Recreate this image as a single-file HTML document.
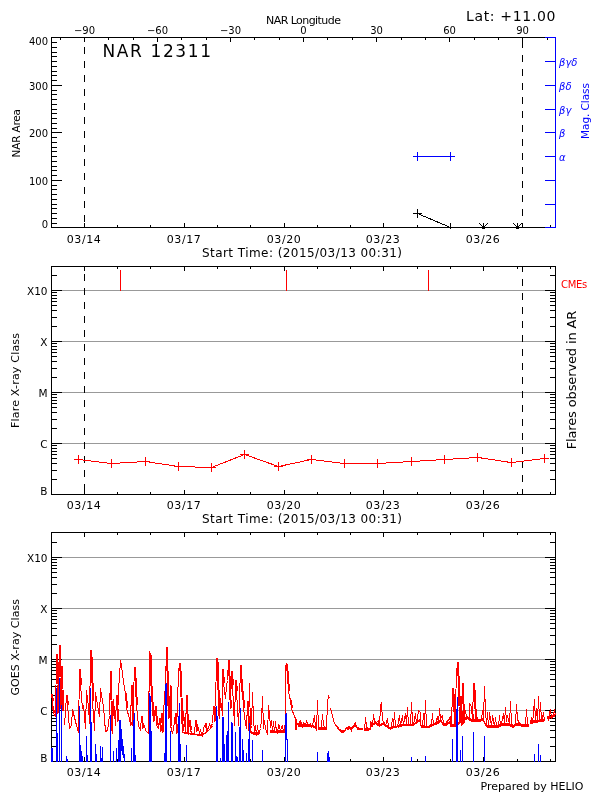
<!DOCTYPE html>
<html><head><meta charset="utf-8"><title>NAR 12311</title>
<style>
html,body{margin:0;padding:0;background:#fff}
svg{display:block}
text{font-family:"DejaVu Sans","Liberation Sans",sans-serif}
</style></head>
<body>
<svg width="600" height="800" viewBox="0 0 600 800">
<rect width="600" height="800" fill="#fff"/>
<g shape-rendering="crispEdges">
<rect x="51" y="37" width="505" height="1" fill="#000"/>
<rect x="51" y="227" width="505" height="1" fill="#000"/>
<rect x="51" y="37" width="1" height="191" fill="#000"/>
<rect x="51" y="227" width="11" height="1" fill="#000"/>
<rect x="51" y="223" width="6" height="1" fill="#000"/>
<rect x="51" y="218" width="6" height="1" fill="#000"/>
<rect x="51" y="213" width="6" height="1" fill="#000"/>
<rect x="51" y="208" width="6" height="1" fill="#000"/>
<rect x="51" y="204" width="6" height="1" fill="#000"/>
<rect x="51" y="199" width="6" height="1" fill="#000"/>
<rect x="51" y="194" width="6" height="1" fill="#000"/>
<rect x="51" y="189" width="6" height="1" fill="#000"/>
<rect x="51" y="185" width="6" height="1" fill="#000"/>
<rect x="51" y="180" width="11" height="1" fill="#000"/>
<rect x="51" y="175" width="6" height="1" fill="#000"/>
<rect x="51" y="170" width="6" height="1" fill="#000"/>
<rect x="51" y="166" width="6" height="1" fill="#000"/>
<rect x="51" y="161" width="6" height="1" fill="#000"/>
<rect x="51" y="156" width="6" height="1" fill="#000"/>
<rect x="51" y="151" width="6" height="1" fill="#000"/>
<rect x="51" y="147" width="6" height="1" fill="#000"/>
<rect x="51" y="142" width="6" height="1" fill="#000"/>
<rect x="51" y="137" width="6" height="1" fill="#000"/>
<rect x="51" y="132" width="11" height="1" fill="#000"/>
<rect x="51" y="128" width="6" height="1" fill="#000"/>
<rect x="51" y="123" width="6" height="1" fill="#000"/>
<rect x="51" y="118" width="6" height="1" fill="#000"/>
<rect x="51" y="113" width="6" height="1" fill="#000"/>
<rect x="51" y="109" width="6" height="1" fill="#000"/>
<rect x="51" y="104" width="6" height="1" fill="#000"/>
<rect x="51" y="99" width="6" height="1" fill="#000"/>
<rect x="51" y="94" width="6" height="1" fill="#000"/>
<rect x="51" y="90" width="6" height="1" fill="#000"/>
<rect x="51" y="85" width="11" height="1" fill="#000"/>
<rect x="51" y="80" width="6" height="1" fill="#000"/>
<rect x="51" y="75" width="6" height="1" fill="#000"/>
<rect x="51" y="71" width="6" height="1" fill="#000"/>
<rect x="51" y="66" width="6" height="1" fill="#000"/>
<rect x="51" y="61" width="6" height="1" fill="#000"/>
<rect x="51" y="56" width="6" height="1" fill="#000"/>
<rect x="51" y="52" width="6" height="1" fill="#000"/>
<rect x="51" y="47" width="6" height="1" fill="#000"/>
<rect x="51" y="42" width="6" height="1" fill="#000"/>
<rect x="51" y="37" width="11" height="1" fill="#000"/>
<rect x="84" y="223" width="1" height="5" fill="#000"/>
<rect x="117" y="225" width="1" height="3" fill="#000"/>
<rect x="150" y="225" width="1" height="3" fill="#000"/>
<rect x="184" y="223" width="1" height="5" fill="#000"/>
<rect x="217" y="225" width="1" height="3" fill="#000"/>
<rect x="250" y="225" width="1" height="3" fill="#000"/>
<rect x="284" y="223" width="1" height="5" fill="#000"/>
<rect x="317" y="225" width="1" height="3" fill="#000"/>
<rect x="350" y="225" width="1" height="3" fill="#000"/>
<rect x="383" y="223" width="1" height="5" fill="#000"/>
<rect x="417" y="225" width="1" height="3" fill="#000"/>
<rect x="450" y="225" width="1" height="3" fill="#000"/>
<rect x="483" y="223" width="1" height="5" fill="#000"/>
<rect x="517" y="225" width="1" height="3" fill="#000"/>
<rect x="550" y="225" width="1" height="3" fill="#000"/>
<rect x="60" y="37" width="1" height="3" fill="#000"/>
<rect x="84" y="37" width="1" height="5" fill="#000"/>
<rect x="108" y="37" width="1" height="3" fill="#000"/>
<rect x="133" y="37" width="1" height="3" fill="#000"/>
<rect x="157" y="37" width="1" height="5" fill="#000"/>
<rect x="181" y="37" width="1" height="3" fill="#000"/>
<rect x="206" y="37" width="1" height="3" fill="#000"/>
<rect x="230" y="37" width="1" height="5" fill="#000"/>
<rect x="254" y="37" width="1" height="3" fill="#000"/>
<rect x="279" y="37" width="1" height="3" fill="#000"/>
<rect x="303" y="37" width="1" height="5" fill="#000"/>
<rect x="327" y="37" width="1" height="3" fill="#000"/>
<rect x="352" y="37" width="1" height="3" fill="#000"/>
<rect x="376" y="37" width="1" height="5" fill="#000"/>
<rect x="401" y="37" width="1" height="3" fill="#000"/>
<rect x="425" y="37" width="1" height="3" fill="#000"/>
<rect x="449" y="37" width="1" height="5" fill="#000"/>
<rect x="474" y="37" width="1" height="3" fill="#000"/>
<rect x="498" y="37" width="1" height="3" fill="#000"/>
<rect x="522" y="37" width="1" height="5" fill="#000"/>
<rect x="547" y="37" width="1" height="3" fill="#000"/>
<rect x="84" y="37" width="1" height="3" fill="#000"/>
<rect x="84" y="47" width="1" height="7" fill="#000"/>
<rect x="84" y="61" width="1" height="7" fill="#000"/>
<rect x="84" y="75" width="1" height="7" fill="#000"/>
<rect x="84" y="89" width="1" height="7" fill="#000"/>
<rect x="84" y="103" width="1" height="7" fill="#000"/>
<rect x="84" y="117" width="1" height="7" fill="#000"/>
<rect x="84" y="131" width="1" height="7" fill="#000"/>
<rect x="84" y="145" width="1" height="7" fill="#000"/>
<rect x="84" y="159" width="1" height="7" fill="#000"/>
<rect x="84" y="173" width="1" height="7" fill="#000"/>
<rect x="84" y="187" width="1" height="7" fill="#000"/>
<rect x="84" y="201" width="1" height="7" fill="#000"/>
<rect x="84" y="215" width="1" height="7" fill="#000"/>
<rect x="522" y="41" width="1" height="7" fill="#000"/>
<rect x="522" y="55" width="1" height="7" fill="#000"/>
<rect x="522" y="69" width="1" height="7" fill="#000"/>
<rect x="522" y="83" width="1" height="7" fill="#000"/>
<rect x="522" y="97" width="1" height="7" fill="#000"/>
<rect x="522" y="111" width="1" height="7" fill="#000"/>
<rect x="522" y="125" width="1" height="7" fill="#000"/>
<rect x="522" y="139" width="1" height="7" fill="#000"/>
<rect x="522" y="153" width="1" height="7" fill="#000"/>
<rect x="522" y="167" width="1" height="7" fill="#000"/>
<rect x="522" y="181" width="1" height="7" fill="#000"/>
<rect x="522" y="195" width="1" height="7" fill="#000"/>
<rect x="522" y="209" width="1" height="7" fill="#000"/>
<rect x="522" y="223" width="1" height="5" fill="#000"/>
<rect x="555" y="37" width="1" height="191" fill="#0000ff"/>
<rect x="545" y="37" width="11" height="1" fill="#0000ff"/>
<rect x="545" y="61" width="11" height="1" fill="#0000ff"/>
<rect x="545" y="85" width="11" height="1" fill="#0000ff"/>
<rect x="545" y="109" width="11" height="1" fill="#0000ff"/>
<rect x="545" y="132" width="11" height="1" fill="#0000ff"/>
<rect x="545" y="156" width="11" height="1" fill="#0000ff"/>
<rect x="545" y="180" width="11" height="1" fill="#0000ff"/>
<rect x="545" y="204" width="11" height="1" fill="#0000ff"/>
<rect x="545" y="227" width="11" height="1" fill="#0000ff"/>
<rect x="413" y="156" width="42" height="1" fill="#0000ff"/>
<rect x="413" y="156" width="9" height="1" fill="#0000ff"/>
<rect x="417" y="152" width="1" height="9" fill="#0000ff"/>
<rect x="446" y="156" width="9" height="1" fill="#0000ff"/>
<rect x="450" y="152" width="1" height="9" fill="#0000ff"/>
<line x1="417.5" y1="213.5" x2="450.5" y2="227.5" stroke="#000" stroke-width="1"/>
<rect x="413" y="213" width="9" height="1" fill="#000"/>
<rect x="417" y="209" width="1" height="9" fill="#000"/>
<rect x="450" y="223" width="1" height="6" fill="#000"/>
<rect x="482" y="226" width="1" height="1" fill="#000"/>
<rect x="484" y="226" width="1" height="1" fill="#000"/>
<rect x="481" y="225" width="1" height="1" fill="#000"/>
<rect x="485" y="225" width="1" height="1" fill="#000"/>
<rect x="480" y="224" width="1" height="1" fill="#000"/>
<rect x="486" y="224" width="1" height="1" fill="#000"/>
<rect x="479" y="223" width="1" height="1" fill="#000"/>
<rect x="487" y="223" width="1" height="1" fill="#000"/>
<rect x="483" y="223" width="1" height="5" fill="#000"/>
<rect x="482" y="226" width="3" height="3" fill="#000"/>
<rect x="516" y="226" width="1" height="1" fill="#000"/>
<rect x="518" y="226" width="1" height="1" fill="#000"/>
<rect x="515" y="225" width="1" height="1" fill="#000"/>
<rect x="519" y="225" width="1" height="1" fill="#000"/>
<rect x="514" y="224" width="1" height="1" fill="#000"/>
<rect x="520" y="224" width="1" height="1" fill="#000"/>
<rect x="513" y="223" width="1" height="1" fill="#000"/>
<rect x="521" y="223" width="1" height="1" fill="#000"/>
<rect x="517" y="223" width="1" height="5" fill="#000"/>
<rect x="516" y="226" width="3" height="3" fill="#000"/>
<rect x="51" y="290" width="505" height="1" fill="#999999"/>
<rect x="51" y="341" width="505" height="1" fill="#999999"/>
<rect x="51" y="392" width="505" height="1" fill="#999999"/>
<rect x="51" y="443" width="505" height="1" fill="#999999"/>
<rect x="51" y="266" width="505" height="1" fill="#000"/>
<rect x="51" y="494" width="505" height="1" fill="#000"/>
<rect x="51" y="266" width="1" height="229" fill="#000"/>
<rect x="555" y="266" width="1" height="229" fill="#000"/>
<rect x="51" y="290" width="11" height="1" fill="#000"/>
<rect x="545" y="290" width="11" height="1" fill="#000"/>
<rect x="51" y="275" width="6" height="1" fill="#000"/>
<rect x="550" y="275" width="6" height="1" fill="#000"/>
<rect x="51" y="341" width="11" height="1" fill="#000"/>
<rect x="545" y="341" width="11" height="1" fill="#000"/>
<rect x="51" y="326" width="6" height="1" fill="#000"/>
<rect x="550" y="326" width="6" height="1" fill="#000"/>
<rect x="51" y="317" width="6" height="1" fill="#000"/>
<rect x="550" y="317" width="6" height="1" fill="#000"/>
<rect x="51" y="310" width="6" height="1" fill="#000"/>
<rect x="550" y="310" width="6" height="1" fill="#000"/>
<rect x="51" y="305" width="6" height="1" fill="#000"/>
<rect x="550" y="305" width="6" height="1" fill="#000"/>
<rect x="51" y="301" width="6" height="1" fill="#000"/>
<rect x="550" y="301" width="6" height="1" fill="#000"/>
<rect x="51" y="298" width="6" height="1" fill="#000"/>
<rect x="550" y="298" width="6" height="1" fill="#000"/>
<rect x="51" y="295" width="6" height="1" fill="#000"/>
<rect x="550" y="295" width="6" height="1" fill="#000"/>
<rect x="51" y="292" width="6" height="1" fill="#000"/>
<rect x="550" y="292" width="6" height="1" fill="#000"/>
<rect x="51" y="392" width="11" height="1" fill="#000"/>
<rect x="545" y="392" width="11" height="1" fill="#000"/>
<rect x="51" y="377" width="6" height="1" fill="#000"/>
<rect x="550" y="377" width="6" height="1" fill="#000"/>
<rect x="51" y="368" width="6" height="1" fill="#000"/>
<rect x="550" y="368" width="6" height="1" fill="#000"/>
<rect x="51" y="361" width="6" height="1" fill="#000"/>
<rect x="550" y="361" width="6" height="1" fill="#000"/>
<rect x="51" y="356" width="6" height="1" fill="#000"/>
<rect x="550" y="356" width="6" height="1" fill="#000"/>
<rect x="51" y="352" width="6" height="1" fill="#000"/>
<rect x="550" y="352" width="6" height="1" fill="#000"/>
<rect x="51" y="349" width="6" height="1" fill="#000"/>
<rect x="550" y="349" width="6" height="1" fill="#000"/>
<rect x="51" y="346" width="6" height="1" fill="#000"/>
<rect x="550" y="346" width="6" height="1" fill="#000"/>
<rect x="51" y="343" width="6" height="1" fill="#000"/>
<rect x="550" y="343" width="6" height="1" fill="#000"/>
<rect x="51" y="443" width="11" height="1" fill="#000"/>
<rect x="545" y="443" width="11" height="1" fill="#000"/>
<rect x="51" y="428" width="6" height="1" fill="#000"/>
<rect x="550" y="428" width="6" height="1" fill="#000"/>
<rect x="51" y="419" width="6" height="1" fill="#000"/>
<rect x="550" y="419" width="6" height="1" fill="#000"/>
<rect x="51" y="412" width="6" height="1" fill="#000"/>
<rect x="550" y="412" width="6" height="1" fill="#000"/>
<rect x="51" y="407" width="6" height="1" fill="#000"/>
<rect x="550" y="407" width="6" height="1" fill="#000"/>
<rect x="51" y="403" width="6" height="1" fill="#000"/>
<rect x="550" y="403" width="6" height="1" fill="#000"/>
<rect x="51" y="400" width="6" height="1" fill="#000"/>
<rect x="550" y="400" width="6" height="1" fill="#000"/>
<rect x="51" y="397" width="6" height="1" fill="#000"/>
<rect x="550" y="397" width="6" height="1" fill="#000"/>
<rect x="51" y="394" width="6" height="1" fill="#000"/>
<rect x="550" y="394" width="6" height="1" fill="#000"/>
<rect x="51" y="494" width="11" height="1" fill="#000"/>
<rect x="545" y="494" width="11" height="1" fill="#000"/>
<rect x="51" y="479" width="6" height="1" fill="#000"/>
<rect x="550" y="479" width="6" height="1" fill="#000"/>
<rect x="51" y="470" width="6" height="1" fill="#000"/>
<rect x="550" y="470" width="6" height="1" fill="#000"/>
<rect x="51" y="463" width="6" height="1" fill="#000"/>
<rect x="550" y="463" width="6" height="1" fill="#000"/>
<rect x="51" y="458" width="6" height="1" fill="#000"/>
<rect x="550" y="458" width="6" height="1" fill="#000"/>
<rect x="51" y="454" width="6" height="1" fill="#000"/>
<rect x="550" y="454" width="6" height="1" fill="#000"/>
<rect x="51" y="451" width="6" height="1" fill="#000"/>
<rect x="550" y="451" width="6" height="1" fill="#000"/>
<rect x="51" y="448" width="6" height="1" fill="#000"/>
<rect x="550" y="448" width="6" height="1" fill="#000"/>
<rect x="51" y="445" width="6" height="1" fill="#000"/>
<rect x="550" y="445" width="6" height="1" fill="#000"/>
<rect x="84" y="490" width="1" height="5" fill="#000"/>
<rect x="84" y="266" width="1" height="5" fill="#000"/>
<rect x="117" y="492" width="1" height="3" fill="#000"/>
<rect x="117" y="266" width="1" height="3" fill="#000"/>
<rect x="150" y="492" width="1" height="3" fill="#000"/>
<rect x="150" y="266" width="1" height="3" fill="#000"/>
<rect x="184" y="490" width="1" height="5" fill="#000"/>
<rect x="184" y="266" width="1" height="5" fill="#000"/>
<rect x="217" y="492" width="1" height="3" fill="#000"/>
<rect x="217" y="266" width="1" height="3" fill="#000"/>
<rect x="250" y="492" width="1" height="3" fill="#000"/>
<rect x="250" y="266" width="1" height="3" fill="#000"/>
<rect x="284" y="490" width="1" height="5" fill="#000"/>
<rect x="284" y="266" width="1" height="5" fill="#000"/>
<rect x="317" y="492" width="1" height="3" fill="#000"/>
<rect x="317" y="266" width="1" height="3" fill="#000"/>
<rect x="350" y="492" width="1" height="3" fill="#000"/>
<rect x="350" y="266" width="1" height="3" fill="#000"/>
<rect x="383" y="490" width="1" height="5" fill="#000"/>
<rect x="383" y="266" width="1" height="5" fill="#000"/>
<rect x="417" y="492" width="1" height="3" fill="#000"/>
<rect x="417" y="266" width="1" height="3" fill="#000"/>
<rect x="450" y="492" width="1" height="3" fill="#000"/>
<rect x="450" y="266" width="1" height="3" fill="#000"/>
<rect x="483" y="490" width="1" height="5" fill="#000"/>
<rect x="483" y="266" width="1" height="5" fill="#000"/>
<rect x="517" y="492" width="1" height="3" fill="#000"/>
<rect x="517" y="266" width="1" height="3" fill="#000"/>
<rect x="550" y="492" width="1" height="3" fill="#000"/>
<rect x="550" y="266" width="1" height="3" fill="#000"/>
<rect x="84" y="266" width="1" height="1" fill="#000"/>
<rect x="84" y="274" width="1" height="7" fill="#000"/>
<rect x="84" y="288" width="1" height="7" fill="#000"/>
<rect x="84" y="302" width="1" height="7" fill="#000"/>
<rect x="84" y="316" width="1" height="7" fill="#000"/>
<rect x="84" y="330" width="1" height="7" fill="#000"/>
<rect x="84" y="344" width="1" height="7" fill="#000"/>
<rect x="84" y="358" width="1" height="7" fill="#000"/>
<rect x="84" y="372" width="1" height="7" fill="#000"/>
<rect x="84" y="386" width="1" height="7" fill="#000"/>
<rect x="84" y="400" width="1" height="7" fill="#000"/>
<rect x="84" y="414" width="1" height="7" fill="#000"/>
<rect x="84" y="428" width="1" height="7" fill="#000"/>
<rect x="84" y="442" width="1" height="7" fill="#000"/>
<rect x="84" y="456" width="1" height="7" fill="#000"/>
<rect x="84" y="470" width="1" height="7" fill="#000"/>
<rect x="84" y="484" width="1" height="7" fill="#000"/>
<rect x="522" y="266" width="1" height="6" fill="#000"/>
<rect x="522" y="279" width="1" height="7" fill="#000"/>
<rect x="522" y="293" width="1" height="7" fill="#000"/>
<rect x="522" y="307" width="1" height="7" fill="#000"/>
<rect x="522" y="321" width="1" height="7" fill="#000"/>
<rect x="522" y="335" width="1" height="7" fill="#000"/>
<rect x="522" y="349" width="1" height="7" fill="#000"/>
<rect x="522" y="363" width="1" height="7" fill="#000"/>
<rect x="522" y="377" width="1" height="7" fill="#000"/>
<rect x="522" y="391" width="1" height="7" fill="#000"/>
<rect x="522" y="405" width="1" height="7" fill="#000"/>
<rect x="522" y="419" width="1" height="7" fill="#000"/>
<rect x="522" y="433" width="1" height="7" fill="#000"/>
<rect x="522" y="447" width="1" height="7" fill="#000"/>
<rect x="522" y="461" width="1" height="7" fill="#000"/>
<rect x="522" y="475" width="1" height="7" fill="#000"/>
<rect x="522" y="489" width="1" height="6" fill="#000"/>
<rect x="84" y="266" width="1" height="5" fill="#000"/>
<rect x="84" y="485" width="1" height="10" fill="#000"/>
<rect x="120" y="270" width="1" height="21" fill="#ff0000"/>
<rect x="286" y="270" width="1" height="21" fill="#ff0000"/>
<rect x="428" y="270" width="1" height="21" fill="#ff0000"/>
<polyline fill="none" stroke="#f00" stroke-width="1" points="78.5,459.5 111.5,463.5 145.5,461.5 178.5,466.5 211.5,467.5 244.5,454.5 278.5,466.5 311.5,459.5 344.5,463.5 377.5,463.5 411.5,461.5 444.5,459.5 477.5,457.5 511.5,462.5 544.5,458.5"/>
<rect x="74" y="459" width="9" height="1" fill="#ff0000"/>
<rect x="78" y="455" width="1" height="9" fill="#ff0000"/>
<rect x="107" y="463" width="9" height="1" fill="#ff0000"/>
<rect x="111" y="459" width="1" height="9" fill="#ff0000"/>
<rect x="141" y="461" width="9" height="1" fill="#ff0000"/>
<rect x="145" y="457" width="1" height="9" fill="#ff0000"/>
<rect x="174" y="466" width="9" height="1" fill="#ff0000"/>
<rect x="178" y="462" width="1" height="9" fill="#ff0000"/>
<rect x="207" y="467" width="9" height="1" fill="#ff0000"/>
<rect x="211" y="463" width="1" height="9" fill="#ff0000"/>
<rect x="240" y="454" width="9" height="1" fill="#ff0000"/>
<rect x="244" y="450" width="1" height="9" fill="#ff0000"/>
<rect x="274" y="466" width="9" height="1" fill="#ff0000"/>
<rect x="278" y="462" width="1" height="9" fill="#ff0000"/>
<rect x="307" y="459" width="9" height="1" fill="#ff0000"/>
<rect x="311" y="455" width="1" height="9" fill="#ff0000"/>
<rect x="340" y="463" width="9" height="1" fill="#ff0000"/>
<rect x="344" y="459" width="1" height="9" fill="#ff0000"/>
<rect x="373" y="463" width="9" height="1" fill="#ff0000"/>
<rect x="377" y="459" width="1" height="9" fill="#ff0000"/>
<rect x="407" y="461" width="9" height="1" fill="#ff0000"/>
<rect x="411" y="457" width="1" height="9" fill="#ff0000"/>
<rect x="440" y="459" width="9" height="1" fill="#ff0000"/>
<rect x="444" y="455" width="1" height="9" fill="#ff0000"/>
<rect x="473" y="457" width="9" height="1" fill="#ff0000"/>
<rect x="477" y="453" width="1" height="9" fill="#ff0000"/>
<rect x="507" y="462" width="9" height="1" fill="#ff0000"/>
<rect x="511" y="458" width="1" height="9" fill="#ff0000"/>
<rect x="540" y="458" width="9" height="1" fill="#ff0000"/>
<rect x="544" y="454" width="1" height="9" fill="#ff0000"/>
<rect x="51" y="557" width="505" height="1" fill="#999999"/>
<rect x="51" y="608" width="505" height="1" fill="#999999"/>
<rect x="51" y="659" width="505" height="1" fill="#999999"/>
<rect x="51" y="710" width="505" height="1" fill="#999999"/>
<rect x="51" y="532" width="505" height="1" fill="#000"/>
<rect x="51" y="761" width="505" height="1" fill="#000"/>
<rect x="51" y="532" width="1" height="230" fill="#000"/>
<rect x="555" y="532" width="1" height="230" fill="#000"/>
<rect x="51" y="557" width="11" height="1" fill="#000"/>
<rect x="545" y="557" width="11" height="1" fill="#000"/>
<rect x="51" y="542" width="6" height="1" fill="#000"/>
<rect x="550" y="542" width="6" height="1" fill="#000"/>
<rect x="51" y="608" width="11" height="1" fill="#000"/>
<rect x="545" y="608" width="11" height="1" fill="#000"/>
<rect x="51" y="593" width="6" height="1" fill="#000"/>
<rect x="550" y="593" width="6" height="1" fill="#000"/>
<rect x="51" y="584" width="6" height="1" fill="#000"/>
<rect x="550" y="584" width="6" height="1" fill="#000"/>
<rect x="51" y="577" width="6" height="1" fill="#000"/>
<rect x="550" y="577" width="6" height="1" fill="#000"/>
<rect x="51" y="572" width="6" height="1" fill="#000"/>
<rect x="550" y="572" width="6" height="1" fill="#000"/>
<rect x="51" y="568" width="6" height="1" fill="#000"/>
<rect x="550" y="568" width="6" height="1" fill="#000"/>
<rect x="51" y="565" width="6" height="1" fill="#000"/>
<rect x="550" y="565" width="6" height="1" fill="#000"/>
<rect x="51" y="562" width="6" height="1" fill="#000"/>
<rect x="550" y="562" width="6" height="1" fill="#000"/>
<rect x="51" y="559" width="6" height="1" fill="#000"/>
<rect x="550" y="559" width="6" height="1" fill="#000"/>
<rect x="51" y="659" width="11" height="1" fill="#000"/>
<rect x="545" y="659" width="11" height="1" fill="#000"/>
<rect x="51" y="644" width="6" height="1" fill="#000"/>
<rect x="550" y="644" width="6" height="1" fill="#000"/>
<rect x="51" y="635" width="6" height="1" fill="#000"/>
<rect x="550" y="635" width="6" height="1" fill="#000"/>
<rect x="51" y="628" width="6" height="1" fill="#000"/>
<rect x="550" y="628" width="6" height="1" fill="#000"/>
<rect x="51" y="623" width="6" height="1" fill="#000"/>
<rect x="550" y="623" width="6" height="1" fill="#000"/>
<rect x="51" y="619" width="6" height="1" fill="#000"/>
<rect x="550" y="619" width="6" height="1" fill="#000"/>
<rect x="51" y="616" width="6" height="1" fill="#000"/>
<rect x="550" y="616" width="6" height="1" fill="#000"/>
<rect x="51" y="613" width="6" height="1" fill="#000"/>
<rect x="550" y="613" width="6" height="1" fill="#000"/>
<rect x="51" y="610" width="6" height="1" fill="#000"/>
<rect x="550" y="610" width="6" height="1" fill="#000"/>
<rect x="51" y="710" width="11" height="1" fill="#000"/>
<rect x="545" y="710" width="11" height="1" fill="#000"/>
<rect x="51" y="695" width="6" height="1" fill="#000"/>
<rect x="550" y="695" width="6" height="1" fill="#000"/>
<rect x="51" y="686" width="6" height="1" fill="#000"/>
<rect x="550" y="686" width="6" height="1" fill="#000"/>
<rect x="51" y="679" width="6" height="1" fill="#000"/>
<rect x="550" y="679" width="6" height="1" fill="#000"/>
<rect x="51" y="674" width="6" height="1" fill="#000"/>
<rect x="550" y="674" width="6" height="1" fill="#000"/>
<rect x="51" y="670" width="6" height="1" fill="#000"/>
<rect x="550" y="670" width="6" height="1" fill="#000"/>
<rect x="51" y="667" width="6" height="1" fill="#000"/>
<rect x="550" y="667" width="6" height="1" fill="#000"/>
<rect x="51" y="664" width="6" height="1" fill="#000"/>
<rect x="550" y="664" width="6" height="1" fill="#000"/>
<rect x="51" y="661" width="6" height="1" fill="#000"/>
<rect x="550" y="661" width="6" height="1" fill="#000"/>
<rect x="51" y="761" width="11" height="1" fill="#000"/>
<rect x="545" y="761" width="11" height="1" fill="#000"/>
<rect x="51" y="746" width="6" height="1" fill="#000"/>
<rect x="550" y="746" width="6" height="1" fill="#000"/>
<rect x="51" y="737" width="6" height="1" fill="#000"/>
<rect x="550" y="737" width="6" height="1" fill="#000"/>
<rect x="51" y="730" width="6" height="1" fill="#000"/>
<rect x="550" y="730" width="6" height="1" fill="#000"/>
<rect x="51" y="725" width="6" height="1" fill="#000"/>
<rect x="550" y="725" width="6" height="1" fill="#000"/>
<rect x="51" y="721" width="6" height="1" fill="#000"/>
<rect x="550" y="721" width="6" height="1" fill="#000"/>
<rect x="51" y="718" width="6" height="1" fill="#000"/>
<rect x="550" y="718" width="6" height="1" fill="#000"/>
<rect x="51" y="715" width="6" height="1" fill="#000"/>
<rect x="550" y="715" width="6" height="1" fill="#000"/>
<rect x="51" y="712" width="6" height="1" fill="#000"/>
<rect x="550" y="712" width="6" height="1" fill="#000"/>
<rect x="84" y="757" width="1" height="5" fill="#000"/>
<rect x="84" y="532" width="1" height="5" fill="#000"/>
<rect x="117" y="759" width="1" height="3" fill="#000"/>
<rect x="117" y="532" width="1" height="3" fill="#000"/>
<rect x="150" y="759" width="1" height="3" fill="#000"/>
<rect x="150" y="532" width="1" height="3" fill="#000"/>
<rect x="184" y="757" width="1" height="5" fill="#000"/>
<rect x="184" y="532" width="1" height="5" fill="#000"/>
<rect x="217" y="759" width="1" height="3" fill="#000"/>
<rect x="217" y="532" width="1" height="3" fill="#000"/>
<rect x="250" y="759" width="1" height="3" fill="#000"/>
<rect x="250" y="532" width="1" height="3" fill="#000"/>
<rect x="284" y="757" width="1" height="5" fill="#000"/>
<rect x="284" y="532" width="1" height="5" fill="#000"/>
<rect x="317" y="759" width="1" height="3" fill="#000"/>
<rect x="317" y="532" width="1" height="3" fill="#000"/>
<rect x="350" y="759" width="1" height="3" fill="#000"/>
<rect x="350" y="532" width="1" height="3" fill="#000"/>
<rect x="383" y="757" width="1" height="5" fill="#000"/>
<rect x="383" y="532" width="1" height="5" fill="#000"/>
<rect x="417" y="759" width="1" height="3" fill="#000"/>
<rect x="417" y="532" width="1" height="3" fill="#000"/>
<rect x="450" y="759" width="1" height="3" fill="#000"/>
<rect x="450" y="532" width="1" height="3" fill="#000"/>
<rect x="483" y="757" width="1" height="5" fill="#000"/>
<rect x="483" y="532" width="1" height="5" fill="#000"/>
<rect x="517" y="759" width="1" height="3" fill="#000"/>
<rect x="517" y="532" width="1" height="3" fill="#000"/>
<rect x="550" y="759" width="1" height="3" fill="#000"/>
<rect x="550" y="532" width="1" height="3" fill="#000"/>
<polygon fill="#f00" points="181.7,731.7 185.8,732.0 193.3,733.3 201.7,734.7 208.3,730.0 213.3,725.0 213.3,726.7 208.3,731.7 201.7,736.3 193.3,735.0 185.8,733.7 181.7,733.3"/>
<polygon fill="#f00" points="250.0,730.7 254.7,732.3 260.0,731.5 260.0,734.2 254.7,735.0 250.0,733.3"/>
<polygon fill="#f00" points="270.0,729.8 276.7,730.7 285.0,729.8 285.0,732.5 276.7,733.3 270.0,732.5"/>
<polygon fill="#f00" points="297.5,724.0 305.0,724.0 313.3,724.8 316.7,727.3 316.7,730.0 313.3,727.5 305.0,726.7 297.5,726.7"/>
<polygon fill="#f00" points="318.0,727.0 326.7,727.0 326.7,729.7 318.0,729.7"/>
<polygon fill="#f00" points="330.5,706.7 331.7,710.0 333.3,718.3 335.0,723.3 336.7,725.3 339.2,728.3 341.7,730.3 344.2,730.0 346.7,727.0 350.0,725.8 350.0,728.3 346.7,729.2 344.2,732.5 341.7,733.0 339.2,730.8 336.7,727.5 335.0,725.8 333.3,720.8 331.7,712.5 330.5,709.2"/>
<polygon fill="#f00" points="287.0,676.0 288.3,690.7 290.0,699.0 291.7,707.3 293.3,712.3 295.3,716.5 295.3,719.2 293.3,715.0 291.7,710.0 290.0,701.7 288.3,693.3 287.0,678.7"/>
<polygon fill="#f00" points="350.0,727.3 353.3,725.7 355.3,724.0 357.5,727.0 362.5,728.3 362.5,730.3 357.5,729.7 355.3,726.7 353.3,728.3 350.0,730.0"/>
<polygon fill="#f00" points="364.3,728.2 370.3,727.7 371.3,724.0 375.0,721.5 379.7,724.0 383.3,722.3 385.8,724.0 390.0,727.0 393.3,725.7 396.7,725.8 396.7,728.3 393.3,728.3 390.0,729.7 385.8,726.7 383.3,725.0 379.7,726.7 375.0,724.2 371.3,726.7 370.3,730.3 364.3,730.8"/>
<polygon fill="#f00" points="397.7,725.7 400.0,724.0 405.0,723.7 410.0,723.7 414.2,723.2 416.7,720.7 420.0,719.0 421.3,725.3 428.3,725.7 431.3,724.0 433.3,723.2 437.5,721.5 440.8,719.0 443.3,723.2 445.8,723.7 450.0,720.7 450.0,723.3 445.8,726.3 443.3,725.8 440.8,721.7 437.5,724.2 433.3,725.8 431.3,726.7 428.3,728.3 421.3,728.0 420.0,721.7 416.7,723.3 414.2,725.8 410.0,726.3 405.0,726.3 400.0,726.7 397.7,728.3"/>
<polygon fill="#f00" points="450.0,723.7 455.5,723.7 463.8,718.2 467.4,716.4 472.0,719.1 477.5,719.1 483.0,718.2 486.7,724.6 497.7,724.6 503.2,722.8 508.7,722.8 513.2,725.2 516.0,722.8 522.4,723.7 528.8,723.9 528.8,726.7 522.4,726.7 516.0,725.8 513.2,728.1 508.7,725.8 503.2,725.8 497.7,727.6 486.7,727.6 483.0,721.2 477.5,722.1 472.0,722.1 467.4,719.3 463.8,721.2 455.5,726.7 450.0,726.7"/>
<polygon fill="#f00" points="530.3,721.0 534.3,720.1 541.7,719.1 545.3,718.2 545.3,721.2 541.7,722.1 534.3,723.0 530.3,723.9"/>
<polygon fill="#f00" points="547.2,716.4 550.8,715.5 555.4,713.6 555.4,716.6 550.8,718.4 547.2,719.3"/>
<polyline fill="none" stroke="#f00" stroke-width="1" points="51.5,694.5 52.5,701.5 52.5,706.5 53.5,713.5 55.5,716.5 56.5,654.5 57.5,713.5 59.5,645.5 60.5,708.5 61.5,666.5 62.5,711.5"/>
<polyline fill="none" stroke="#f00" stroke-width="1" points="64.5,725.5 66.5,695.5 67.5,705.5 69.5,728.5 71.5,725.5 72.5,709.5 75.5,721.5 76.5,725.5 78.5,732.5 79.5,669.5 80.5,685.5 82.5,708.5 83.5,705.5 85.5,728.5 86.5,690.5 88.5,706.5 89.5,723.5 90.5,650.5 91.5,663.5 92.5,701.5 94.5,730.5 95.5,692.5 97.5,705.5 99.5,716.5 100.5,688.5 102.5,701.5 103.5,706.5 105.5,731.5 107.5,730.5 109.5,715.5 110.5,671.5 111.5,728.5 112.5,733.5 113.5,699.5 115.5,725.5 116.5,695.5 117.5,721.5 118.5,690.5 120.5,660.5 121.5,665.5 123.5,681.5 125.5,693.5 126.5,708.5 129.5,718.5 130.5,725.5 131.5,685.5 132.5,725.5 134.5,667.5 135.5,688.5 136.5,705.5 138.5,725.5 140.5,730.5 141.5,716.5 142.5,728.5 144.5,725.5 145.5,730.5 148.5,733.5 149.5,651.5 150.5,654.5 150.5,678.5 151.5,693.5 152.5,710.5 153.5,721.5 155.5,706.5 156.5,725.5 158.5,728.5 159.5,718.5 160.5,731.5 161.5,713.5 162.5,732.5 164.5,696.5 165.5,685.5 166.5,647.5 167.5,693.5 168.5,718.5 169.5,706.5 170.5,685.5 170.5,725.5 172.5,733.5 173.5,728.5 175.5,713.5 176.5,733.5 177.5,701.5 178.5,673.5 179.5,663.5 180.5,678.5 181.5,715.5 182.5,731.5 183.5,711.5 185.5,731.5 186.5,695.5 187.5,731.5 188.5,733.5 189.5,720.5 190.5,730.5 192.5,734.5 194.5,733.5 195.5,720.5 196.5,731.5 197.5,724.5 199.5,733.5 200.5,730.5 202.5,736.5 203.5,728.5 205.5,723.5 206.5,731.5 208.5,728.5 209.5,723.5 210.5,727.5 212.5,723.5 213.5,706.5 214.5,721.5 215.5,706.5 216.5,658.5 217.5,665.5 218.5,713.5 219.5,718.5 220.5,698.5 222.5,715.5 222.5,669.5 223.5,683.5 225.5,698.5 226.5,685.5 227.5,680.5 228.5,660.5 229.5,690.5 230.5,708.5 231.5,671.5 232.5,685.5 234.5,725.5 235.5,680.5 236.5,691.5 238.5,725.5 239.5,701.5 240.5,665.5 241.5,691.5 242.5,691.5 243.5,708.5 245.5,723.5 246.5,728.5 247.5,701.5 248.5,730.5 249.5,683.5 250.5,730.5 251.5,725.5 252.5,692.5 253.5,718.5 254.5,733.5 255.5,725.5 256.5,735.5 257.5,725.5 258.5,734.5 260.5,728.5 261.5,720.5 262.5,696.5 263.5,728.5 264.5,720.5 265.5,728.5 267.5,734.5 268.5,705.5 269.5,713.5 270.5,727.5 271.5,720.5 272.5,731.5 273.5,721.5 274.5,732.5 275.5,723.5 275.5,721.5 276.5,732.5 277.5,733.5 278.5,724.5 279.5,725.5 280.5,732.5 280.5,732.5 281.5,726.5 282.5,725.5 283.5,732.5 284.5,731.5 285.5,718.5 285.5,666.5 286.5,664.5 287.5,676.5 288.5,691.5 290.5,700.5 291.5,708.5 293.5,713.5 295.5,718.5 295.5,718.5 295.5,729.5"/>
<polyline fill="none" stroke="#f00" stroke-width="1" points="297.5,723.5 298.5,725.5 299.5,721.5 300.5,725.5 300.5,720.5 302.5,726.5 303.5,722.5 305.5,725.5 306.5,721.5 308.5,725.5 310.5,723.5 311.5,726.5 313.5,721.5 314.5,715.5 315.5,727.5 316.5,730.5 317.5,700.5 318.5,728.5 320.5,729.5 321.5,725.5 322.5,714.5 323.5,725.5 325.5,728.5 326.5,729.5 327.5,701.5 328.5,696.5 329.5,698.5"/>
<polyline fill="none" stroke="#f00" stroke-width="1" points="330.5,708.5 331.5,711.5 333.5,720.5 335.5,725.5 336.5,726.5 339.5,730.5 341.5,732.5 344.5,731.5 346.5,728.5 348.5,729.5 350.5,727.5 350.5,727.5 351.5,730.5 353.5,725.5 355.5,722.5 356.5,727.5 359.5,728.5 362.5,730.5"/>
<polyline fill="none" stroke="#f00" stroke-width="1" points="364.5,730.5 365.5,717.5 366.5,726.5 368.5,730.5 370.5,728.5 370.5,721.5 372.5,725.5 373.5,714.5 374.5,721.5 376.5,722.5 378.5,720.5 379.5,725.5 380.5,706.5 381.5,702.5 382.5,720.5 384.5,722.5 385.5,725.5 387.5,718.5 388.5,727.5 390.5,729.5 391.5,725.5 392.5,718.5 393.5,725.5 394.5,712.5 395.5,726.5 396.5,728.5"/>
<polyline fill="none" stroke="#f00" stroke-width="1" points="397.5,727.5 398.5,721.5 399.5,715.5 400.5,725.5 402.5,715.5 403.5,725.5 405.5,713.5 406.5,723.5 407.5,707.5 408.5,725.5 410.5,725.5 411.5,702.5 412.5,721.5 413.5,725.5 414.5,718.5 415.5,713.5 416.5,723.5 418.5,710.5 420.5,712.5 420.5,725.5 422.5,727.5 423.5,713.5 424.5,726.5 425.5,700.5 426.5,726.5 428.5,727.5 430.5,725.5 431.5,725.5 432.5,713.5 433.5,725.5 435.5,723.5 437.5,716.5 438.5,723.5 439.5,708.5 440.5,718.5 442.5,715.5 443.5,723.5 445.5,725.5 446.5,721.5 448.5,720.5 450.5,716.5 450.5,723.5 451.5,726.5 452.5,688.5 453.5,699.5 454.5,724.5 455.5,704.5 456.5,673.5 457.5,662.5 458.5,688.5 459.5,723.5 460.5,696.5 461.5,725.5 462.5,683.5 463.5,723.5 464.5,708.5 466.5,715.5 467.5,717.5 469.5,718.5 469.5,703.5 471.5,706.5 472.5,721.5 473.5,683.5 474.5,695.5 475.5,721.5 476.5,712.5 477.5,720.5 479.5,721.5 481.5,719.5 482.5,710.5 483.5,719.5 484.5,686.5 485.5,710.5 486.5,724.5 487.5,712.5 488.5,727.5 489.5,712.5 491.5,726.5 492.5,715.5 494.5,726.5 495.5,717.5 496.5,726.5 498.5,727.5 499.5,715.5 500.5,725.5 501.5,723.5 503.5,713.5 504.5,723.5 505.5,707.5 506.5,721.5 507.5,715.5 509.5,724.5 510.5,701.5 511.5,723.5 513.5,727.5 515.5,724.5 516.5,704.5 517.5,719.5 519.5,723.5 522.5,725.5 525.5,724.5 526.5,709.5 527.5,724.5 528.5,725.5"/>
<polyline fill="none" stroke="#f00" stroke-width="1" points="530.5,723.5 531.5,717.5 532.5,723.5 533.5,713.5 534.5,699.5 535.5,721.5 536.5,708.5 537.5,722.5 538.5,696.5 539.5,721.5 540.5,702.5 541.5,721.5 542.5,717.5 543.5,712.5 544.5,721.5"/>
<polyline fill="none" stroke="#f00" stroke-width="1" points="547.5,717.5 548.5,719.5 549.5,713.5 550.5,709.5 551.5,718.5 553.5,715.5 554.5,709.5 555.5,715.5"/>
<line x1="52.5" y1="694.5" x2="53.5" y2="701.5" stroke="#f00" stroke-width="1"/>
<line x1="53.5" y1="706.5" x2="54.5" y2="713.5" stroke="#f00" stroke-width="1"/>
<line x1="57.5" y1="654.5" x2="58.5" y2="713.5" stroke="#f00" stroke-width="1"/>
<line x1="60.5" y1="645.5" x2="61.5" y2="708.5" stroke="#f00" stroke-width="1"/>
<line x1="62.5" y1="666.5" x2="63.5" y2="711.5" stroke="#f00" stroke-width="1"/>
<line x1="67.5" y1="695.5" x2="68.5" y2="705.5" stroke="#f00" stroke-width="1"/>
<line x1="80.5" y1="669.5" x2="81.5" y2="685.5" stroke="#f00" stroke-width="1"/>
<line x1="89.5" y1="706.5" x2="90.5" y2="723.5" stroke="#f00" stroke-width="1"/>
<line x1="91.5" y1="650.5" x2="92.5" y2="663.5" stroke="#f00" stroke-width="1"/>
<line x1="92.5" y1="663.5" x2="93.5" y2="701.5" stroke="#f00" stroke-width="1"/>
<line x1="111.5" y1="671.5" x2="112.5" y2="728.5" stroke="#f00" stroke-width="1"/>
<line x1="117.5" y1="695.5" x2="118.5" y2="721.5" stroke="#f00" stroke-width="1"/>
<line x1="126.5" y1="693.5" x2="127.5" y2="708.5" stroke="#f00" stroke-width="1"/>
<line x1="130.5" y1="718.5" x2="131.5" y2="725.5" stroke="#f00" stroke-width="1"/>
<line x1="132.5" y1="685.5" x2="133.5" y2="725.5" stroke="#f00" stroke-width="1"/>
<line x1="135.5" y1="667.5" x2="136.5" y2="688.5" stroke="#f00" stroke-width="1"/>
<line x1="136.5" y1="688.5" x2="137.5" y2="705.5" stroke="#f00" stroke-width="1"/>
<line x1="142.5" y1="716.5" x2="143.5" y2="728.5" stroke="#f00" stroke-width="1"/>
<line x1="151.5" y1="654.5" x2="151.5" y2="678.5" stroke="#f00" stroke-width="1"/>
<line x1="151.5" y1="678.5" x2="152.5" y2="693.5" stroke="#f00" stroke-width="1"/>
<line x1="152.5" y1="693.5" x2="153.5" y2="710.5" stroke="#f00" stroke-width="1"/>
<line x1="153.5" y1="710.5" x2="154.5" y2="721.5" stroke="#f00" stroke-width="1"/>
<line x1="156.5" y1="706.5" x2="157.5" y2="725.5" stroke="#f00" stroke-width="1"/>
<line x1="160.5" y1="718.5" x2="161.5" y2="731.5" stroke="#f00" stroke-width="1"/>
<line x1="162.5" y1="713.5" x2="163.5" y2="732.5" stroke="#f00" stroke-width="1"/>
<line x1="167.5" y1="647.5" x2="168.5" y2="693.5" stroke="#f00" stroke-width="1"/>
<line x1="168.5" y1="693.5" x2="169.5" y2="718.5" stroke="#f00" stroke-width="1"/>
<line x1="171.5" y1="685.5" x2="171.5" y2="725.5" stroke="#f00" stroke-width="1"/>
<line x1="176.5" y1="713.5" x2="177.5" y2="733.5" stroke="#f00" stroke-width="1"/>
<line x1="180.5" y1="663.5" x2="181.5" y2="678.5" stroke="#f00" stroke-width="1"/>
<line x1="181.5" y1="678.5" x2="182.5" y2="715.5" stroke="#f00" stroke-width="1"/>
<line x1="182.5" y1="715.5" x2="183.5" y2="731.5" stroke="#f00" stroke-width="1"/>
<line x1="187.5" y1="695.5" x2="188.5" y2="731.5" stroke="#f00" stroke-width="1"/>
<line x1="190.5" y1="720.5" x2="191.5" y2="730.5" stroke="#f00" stroke-width="1"/>
<line x1="196.5" y1="720.5" x2="197.5" y2="731.5" stroke="#f00" stroke-width="1"/>
<line x1="206.5" y1="723.5" x2="207.5" y2="731.5" stroke="#f00" stroke-width="1"/>
<line x1="214.5" y1="706.5" x2="215.5" y2="721.5" stroke="#f00" stroke-width="1"/>
<line x1="217.5" y1="658.5" x2="218.5" y2="665.5" stroke="#f00" stroke-width="1"/>
<line x1="218.5" y1="665.5" x2="219.5" y2="713.5" stroke="#f00" stroke-width="1"/>
<line x1="223.5" y1="669.5" x2="224.5" y2="683.5" stroke="#f00" stroke-width="1"/>
<line x1="229.5" y1="660.5" x2="230.5" y2="690.5" stroke="#f00" stroke-width="1"/>
<line x1="230.5" y1="690.5" x2="231.5" y2="708.5" stroke="#f00" stroke-width="1"/>
<line x1="232.5" y1="671.5" x2="233.5" y2="685.5" stroke="#f00" stroke-width="1"/>
<line x1="236.5" y1="680.5" x2="237.5" y2="691.5" stroke="#f00" stroke-width="1"/>
<line x1="241.5" y1="665.5" x2="242.5" y2="691.5" stroke="#f00" stroke-width="1"/>
<line x1="243.5" y1="691.5" x2="244.5" y2="708.5" stroke="#f00" stroke-width="1"/>
<line x1="248.5" y1="701.5" x2="249.5" y2="730.5" stroke="#f00" stroke-width="1"/>
<line x1="287.5" y1="664.5" x2="288.5" y2="676.5" stroke="#f00" stroke-width="1"/>
<line x1="288.5" y1="676.5" x2="289.5" y2="691.5" stroke="#f00" stroke-width="1"/>
<line x1="291.5" y1="700.5" x2="292.5" y2="708.5" stroke="#f00" stroke-width="1"/>
<line x1="296.5" y1="718.5" x2="296.5" y2="729.5" stroke="#f00" stroke-width="1"/>
<line x1="453.5" y1="688.5" x2="454.5" y2="699.5" stroke="#f00" stroke-width="1"/>
<line x1="454.5" y1="699.5" x2="455.5" y2="724.5" stroke="#f00" stroke-width="1"/>
<line x1="458.5" y1="662.5" x2="459.5" y2="688.5" stroke="#f00" stroke-width="1"/>
<line x1="459.5" y1="688.5" x2="460.5" y2="723.5" stroke="#f00" stroke-width="1"/>
<line x1="461.5" y1="696.5" x2="462.5" y2="725.5" stroke="#f00" stroke-width="1"/>
<line x1="463.5" y1="683.5" x2="464.5" y2="723.5" stroke="#f00" stroke-width="1"/>
<line x1="472.5" y1="706.5" x2="473.5" y2="721.5" stroke="#f00" stroke-width="1"/>
<line x1="474.5" y1="683.5" x2="475.5" y2="695.5" stroke="#f00" stroke-width="1"/>
<line x1="475.5" y1="695.5" x2="476.5" y2="721.5" stroke="#f00" stroke-width="1"/>
<rect x="51" y="748" width="1" height="14" fill="#0000ff"/>
<rect x="52" y="748" width="1" height="14" fill="#0000ff"/>
<rect x="56" y="688" width="1" height="74" fill="#0000ff"/>
<rect x="57" y="733" width="1" height="29" fill="#0000ff"/>
<rect x="59" y="678" width="1" height="84" fill="#0000ff"/>
<rect x="61" y="705" width="1" height="57" fill="#0000ff"/>
<rect x="66" y="756" width="1" height="6" fill="#0000ff"/>
<rect x="67" y="759" width="1" height="3" fill="#0000ff"/>
<rect x="79" y="706" width="1" height="56" fill="#0000ff"/>
<rect x="80" y="745" width="1" height="17" fill="#0000ff"/>
<rect x="81" y="751" width="1" height="11" fill="#0000ff"/>
<rect x="82" y="756" width="1" height="6" fill="#0000ff"/>
<rect x="86" y="736" width="1" height="26" fill="#0000ff"/>
<rect x="87" y="755" width="1" height="7" fill="#0000ff"/>
<rect x="90" y="688" width="1" height="74" fill="#0000ff"/>
<rect x="91" y="722" width="1" height="40" fill="#0000ff"/>
<rect x="95" y="744" width="1" height="18" fill="#0000ff"/>
<rect x="96" y="754" width="1" height="8" fill="#0000ff"/>
<rect x="100" y="746" width="1" height="16" fill="#0000ff"/>
<rect x="101" y="758" width="1" height="4" fill="#0000ff"/>
<rect x="102" y="747" width="1" height="15" fill="#0000ff"/>
<rect x="110" y="715" width="1" height="47" fill="#0000ff"/>
<rect x="113" y="751" width="1" height="11" fill="#0000ff"/>
<rect x="116" y="748" width="1" height="14" fill="#0000ff"/>
<rect x="118" y="740" width="1" height="22" fill="#0000ff"/>
<rect x="119" y="720" width="1" height="42" fill="#0000ff"/>
<rect x="120" y="720" width="1" height="42" fill="#0000ff"/>
<rect x="131" y="748" width="1" height="14" fill="#0000ff"/>
<rect x="133" y="720" width="1" height="42" fill="#0000ff"/>
<rect x="134" y="713" width="1" height="49" fill="#0000ff"/>
<rect x="135" y="755" width="1" height="7" fill="#0000ff"/>
<rect x="149" y="693" width="1" height="69" fill="#0000ff"/>
<rect x="150" y="696" width="1" height="66" fill="#0000ff"/>
<rect x="151" y="731" width="1" height="31" fill="#0000ff"/>
<rect x="164" y="753" width="1" height="9" fill="#0000ff"/>
<rect x="165" y="684" width="1" height="78" fill="#0000ff"/>
<rect x="166" y="683" width="1" height="79" fill="#0000ff"/>
<rect x="170" y="731" width="1" height="31" fill="#0000ff"/>
<rect x="178" y="716" width="1" height="46" fill="#0000ff"/>
<rect x="179" y="703" width="1" height="59" fill="#0000ff"/>
<rect x="180" y="744" width="1" height="18" fill="#0000ff"/>
<rect x="186" y="745" width="1" height="17" fill="#0000ff"/>
<rect x="216" y="706" width="1" height="56" fill="#0000ff"/>
<rect x="217" y="716" width="1" height="46" fill="#0000ff"/>
<rect x="220" y="758" width="1" height="4" fill="#0000ff"/>
<rect x="222" y="717" width="1" height="45" fill="#0000ff"/>
<rect x="223" y="717" width="1" height="45" fill="#0000ff"/>
<rect x="224" y="744" width="1" height="18" fill="#0000ff"/>
<rect x="226" y="735" width="1" height="27" fill="#0000ff"/>
<rect x="227" y="731" width="1" height="31" fill="#0000ff"/>
<rect x="228" y="702" width="1" height="60" fill="#0000ff"/>
<rect x="231" y="722" width="1" height="40" fill="#0000ff"/>
<rect x="232" y="723" width="1" height="39" fill="#0000ff"/>
<rect x="235" y="732" width="1" height="30" fill="#0000ff"/>
<rect x="236" y="756" width="1" height="6" fill="#0000ff"/>
<rect x="237" y="757" width="1" height="5" fill="#0000ff"/>
<rect x="239" y="727" width="1" height="35" fill="#0000ff"/>
<rect x="240" y="708" width="1" height="54" fill="#0000ff"/>
<rect x="242" y="739" width="1" height="23" fill="#0000ff"/>
<rect x="243" y="750" width="1" height="12" fill="#0000ff"/>
<rect x="246" y="753" width="1" height="9" fill="#0000ff"/>
<rect x="248" y="739" width="1" height="23" fill="#0000ff"/>
<rect x="249" y="723" width="1" height="39" fill="#0000ff"/>
<rect x="252" y="740" width="1" height="22" fill="#0000ff"/>
<rect x="262" y="750" width="1" height="12" fill="#0000ff"/>
<rect x="285" y="714" width="1" height="48" fill="#0000ff"/>
<rect x="287" y="739" width="1" height="23" fill="#0000ff"/>
<rect x="317" y="752" width="1" height="10" fill="#0000ff"/>
<rect x="327" y="753" width="1" height="9" fill="#0000ff"/>
<rect x="328" y="751" width="1" height="11" fill="#0000ff"/>
<rect x="329" y="757" width="1" height="5" fill="#0000ff"/>
<rect x="411" y="757" width="1" height="5" fill="#0000ff"/>
<rect x="425" y="756" width="1" height="6" fill="#0000ff"/>
<rect x="452" y="739" width="1" height="23" fill="#0000ff"/>
<rect x="456" y="709" width="1" height="53" fill="#0000ff"/>
<rect x="457" y="697" width="1" height="65" fill="#0000ff"/>
<rect x="460" y="750" width="1" height="12" fill="#0000ff"/>
<rect x="462" y="736" width="1" height="26" fill="#0000ff"/>
<rect x="473" y="732" width="1" height="30" fill="#0000ff"/>
<rect x="484" y="736" width="1" height="26" fill="#0000ff"/>
<rect x="534" y="754" width="1" height="8" fill="#0000ff"/>
<rect x="538" y="744" width="1" height="18" fill="#0000ff"/>
<rect x="540" y="755" width="1" height="7" fill="#0000ff"/>
<rect x="121" y="729" width="1" height="22" fill="#0000ff"/>
<rect x="122" y="739" width="1" height="16" fill="#0000ff"/>
<rect x="123" y="746" width="1" height="12" fill="#0000ff"/>
<rect x="124" y="754" width="1" height="8" fill="#0000ff"/>
<rect x="286" y="713" width="1" height="27" fill="#0000ff"/>
</g>
<g>
<text x="266" y="24" font-size="11" textLength="75" lengthAdjust="spacing">NAR Longitude</text>
<text x="466" y="21" font-size="14" textLength="89.5" lengthAdjust="spacing">Lat: +11.00</text>
<text x="102.5" y="57" font-size="17" textLength="108.5" lengthAdjust="spacing">NAR 12311</text>
<text x="84.5" y="34" font-size="10" text-anchor="middle">−90</text>
<text x="157.5" y="34" font-size="10" text-anchor="middle">−60</text>
<text x="230.5" y="34" font-size="10" text-anchor="middle">−30</text>
<text x="303.5" y="34" font-size="10" text-anchor="middle">0</text>
<text x="376.5" y="34" font-size="10" text-anchor="middle">30</text>
<text x="449.5" y="34" font-size="10" text-anchor="middle">60</text>
<text x="522.5" y="34" font-size="10" text-anchor="middle">90</text>
<text x="48" y="45" font-size="10" text-anchor="end">400</text>
<text x="48" y="89.5" font-size="10" text-anchor="end">300</text>
<text x="48" y="137" font-size="10" text-anchor="end">200</text>
<text x="48" y="185" font-size="10" text-anchor="end">100</text>
<text x="48" y="227.5" font-size="10" text-anchor="end">0</text>
<text x="66.8" y="242.8" font-size="11" textLength="34" lengthAdjust="spacing">03/14</text>
<text x="166.8" y="242.8" font-size="11" textLength="34" lengthAdjust="spacing">03/17</text>
<text x="266.8" y="242.8" font-size="11" textLength="34" lengthAdjust="spacing">03/20</text>
<text x="365.8" y="242.8" font-size="11" textLength="34" lengthAdjust="spacing">03/23</text>
<text x="465.8" y="242.8" font-size="11" textLength="34" lengthAdjust="spacing">03/26</text>
<text x="66.8" y="508.6" font-size="11" textLength="34" lengthAdjust="spacing">03/14</text>
<text x="166.8" y="508.6" font-size="11" textLength="34" lengthAdjust="spacing">03/17</text>
<text x="266.8" y="508.6" font-size="11" textLength="34" lengthAdjust="spacing">03/20</text>
<text x="365.8" y="508.6" font-size="11" textLength="34" lengthAdjust="spacing">03/23</text>
<text x="465.8" y="508.6" font-size="11" textLength="34" lengthAdjust="spacing">03/26</text>
<text x="66.8" y="775.8" font-size="11" textLength="34" lengthAdjust="spacing">03/14</text>
<text x="166.8" y="775.8" font-size="11" textLength="34" lengthAdjust="spacing">03/17</text>
<text x="266.8" y="775.8" font-size="11" textLength="34" lengthAdjust="spacing">03/20</text>
<text x="365.8" y="775.8" font-size="11" textLength="34" lengthAdjust="spacing">03/23</text>
<text x="465.8" y="775.8" font-size="11" textLength="34" lengthAdjust="spacing">03/26</text>
<text x="202" y="256.5" font-size="12" textLength="200" lengthAdjust="spacing">Start Time: (2015/03/13 00:31)</text>
<text x="202" y="523" font-size="12" textLength="200" lengthAdjust="spacing">Start Time: (2015/03/13 00:31)</text>
<text x="19.5" y="157.5" font-size="10.5" textLength="48.5" lengthAdjust="spacing" transform="rotate(-90 19.5 157.5)">NAR Area</text>
<text x="588.7" y="139" font-size="10.5" fill="#0000ff" textLength="56" lengthAdjust="spacing" transform="rotate(-90 588.7 139)">Mag. Class</text>
<text x="559" y="65.5" font-size="10" fill="#0000ff" font-style="oblique">βγδ</text>
<text x="559" y="89.5" font-size="10" fill="#0000ff" font-style="oblique">βδ</text>
<text x="559" y="113.5" font-size="10" fill="#0000ff" font-style="oblique">βγ</text>
<text x="559" y="136.5" font-size="10" fill="#0000ff" font-style="oblique">β</text>
<text x="559" y="160.5" font-size="10" fill="#0000ff" font-style="oblique">α</text>
<text x="47.5" y="294.5" font-size="10.5" text-anchor="end">X10</text>
<text x="47.5" y="561.5" font-size="10.5" text-anchor="end">X10</text>
<text x="47.5" y="345.5" font-size="10.5" text-anchor="end">X</text>
<text x="47.5" y="612.5" font-size="10.5" text-anchor="end">X</text>
<text x="47.5" y="396.5" font-size="10.5" text-anchor="end">M</text>
<text x="47.5" y="663.5" font-size="10.5" text-anchor="end">M</text>
<text x="47.5" y="447.5" font-size="10.5" text-anchor="end">C</text>
<text x="47.5" y="714.5" font-size="10.5" text-anchor="end">C</text>
<text x="47.5" y="495" font-size="10.5" text-anchor="end">B</text>
<text x="47.5" y="761.5" font-size="10.5" text-anchor="end">B</text>
<text x="19.3" y="428" font-size="11" textLength="95" lengthAdjust="spacing" transform="rotate(-90 19.3 428)">Flare X-ray Class</text>
<text x="19.3" y="695.6" font-size="11" textLength="96.6" lengthAdjust="spacing" transform="rotate(-90 19.3 695.6)">GOES X-ray Class</text>
<text x="561" y="287.5" font-size="10" fill="#ff0000" textLength="26.3" lengthAdjust="spacing">CMEs</text>
<text x="576" y="449.3" font-size="13" textLength="138.6" lengthAdjust="spacing" transform="rotate(-90 576 449.3)">Flares observed in AR</text>
<text x="480.5" y="790.4" font-size="11" textLength="103" lengthAdjust="spacing">Prepared by HELIO</text>
</g>
</svg>
</body></html>
